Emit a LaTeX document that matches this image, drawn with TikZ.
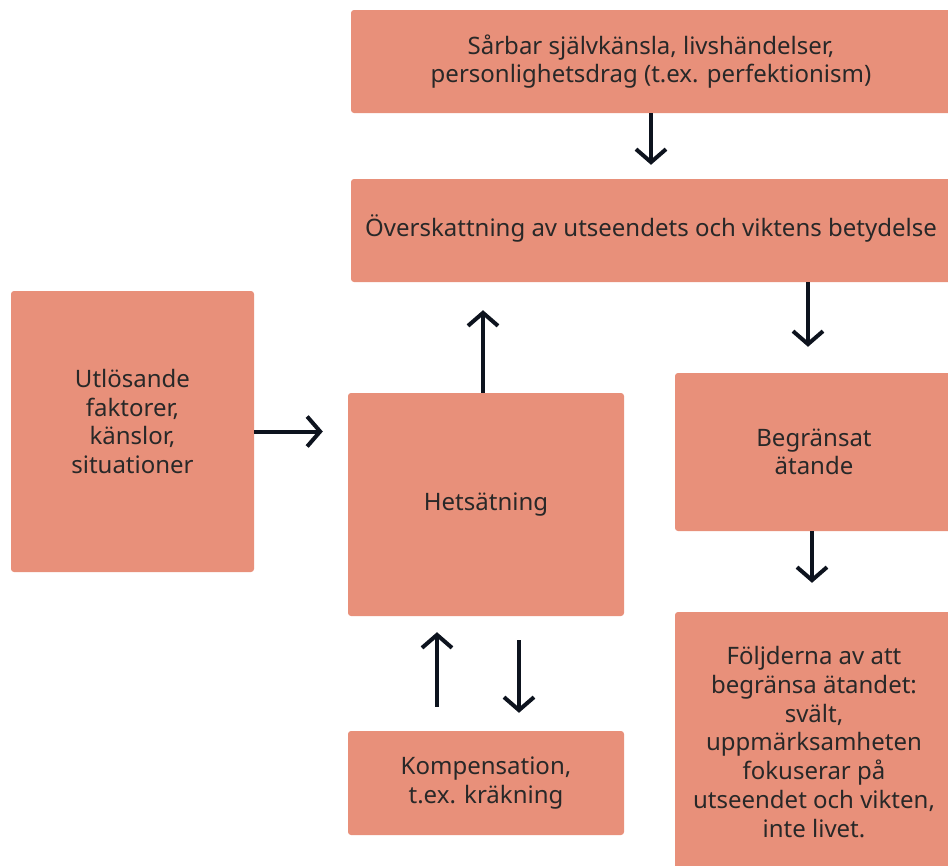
\documentclass[tikz,border=0pt]{standalone}
\usepackage{fontspec}
\setmainfont{Noto Sans}
\usepackage{tikz}
\usetikzlibrary{arrows}
\usetikzlibrary{arrows.meta}
\definecolor{boxfill}{RGB}{232,144,122}
\definecolor{boxtext}{RGB}{40,40,40}
\definecolor{arrowcol}{RGB}{13,19,30}
\tikzstyle{box} = [draw=none, fill=boxfill, rounded corners=3pt, inner sep=0pt, align=center, text=boxtext, font=\fontsize{24}{28.7}\selectfont]
\tikzstyle{line} = [draw=arrowcol, -{Straight Barb[length=13pt, width=30pt, line width=4pt]}, line width=4pt]

\begin{document}
\begin{tikzpicture}[x=1pt,y=-1pt]
	\useasboundingbox (0,0) rectangle (948,865);
	\clip (0,0) rectangle (948,865);

	% ------------------- Boxes ------------------- %
	\node[box, minimum width=600pt, minimum height=103pt] (src) at (651,61.5)
		{Sårbar självkänsla, livshändelser,\\personlighetsdrag (t.ex. perfektionism)};
	\node[box, minimum width=600pt, minimum height=103pt] (over) at (651,230.5)
		{Överskattning av utseendets och viktens betydelse\\[-19.7pt]};
	\node[box, minimum width=243pt, minimum height=281pt] (trig) at (132.5,431.5)
		{Utlösande\\faktorer,\\känslor,\\situationer\\[-8.7pt]};
	\node[box, minimum width=276pt, minimum height=223pt] (binge) at (486,504.5)
		{Hetsätning};
	\node[box, minimum width=276pt, minimum height=104pt] (comp) at (486,783)
		{Kompensation,\\t.ex. kräkning};
	\node[box, minimum width=278pt, minimum height=158pt] (restr) at (814,452)
		{Begränsat\\ätande};
	\node[box, minimum width=278pt, minimum height=260pt] (cons) at (814,742)
		{Följderna av att\\begränsa ätandet:\\svält,\\uppmärksamheten\\fokuserar på\\utseendet och vikten,\\inte livet.};

	% ------------------- Arrows ------------------- %
	\draw[line, shorten >=14pt] (src.south) -- (over.north);
	\draw[line, shorten >=26pt] ([xshift=-6pt]over.south -| restr.north) -- ([xshift=-6pt]restr.north);
	\draw[line, shorten >=28pt] ([xshift=-3pt]binge.north) -- ([xshift=-3pt]binge.north |- over.south);
	\draw[line, shorten >=25pt] (trig.east) -- (trig.east -| binge.west);
	\draw[line, shorten >=29pt] ([xshift=-2pt]restr.south) -- ([xshift=-2pt]cons.north);

	\draw[line, shorten <=24pt, shorten >=16pt] ([xshift=-49pt]comp.north) -- ([xshift=-49pt]binge.south);
	\draw[line, shorten <=24pt, shorten >=18pt] ([xshift=33pt]binge.south) -- ([xshift=33pt]comp.north);
\end{tikzpicture}
\end{document}
